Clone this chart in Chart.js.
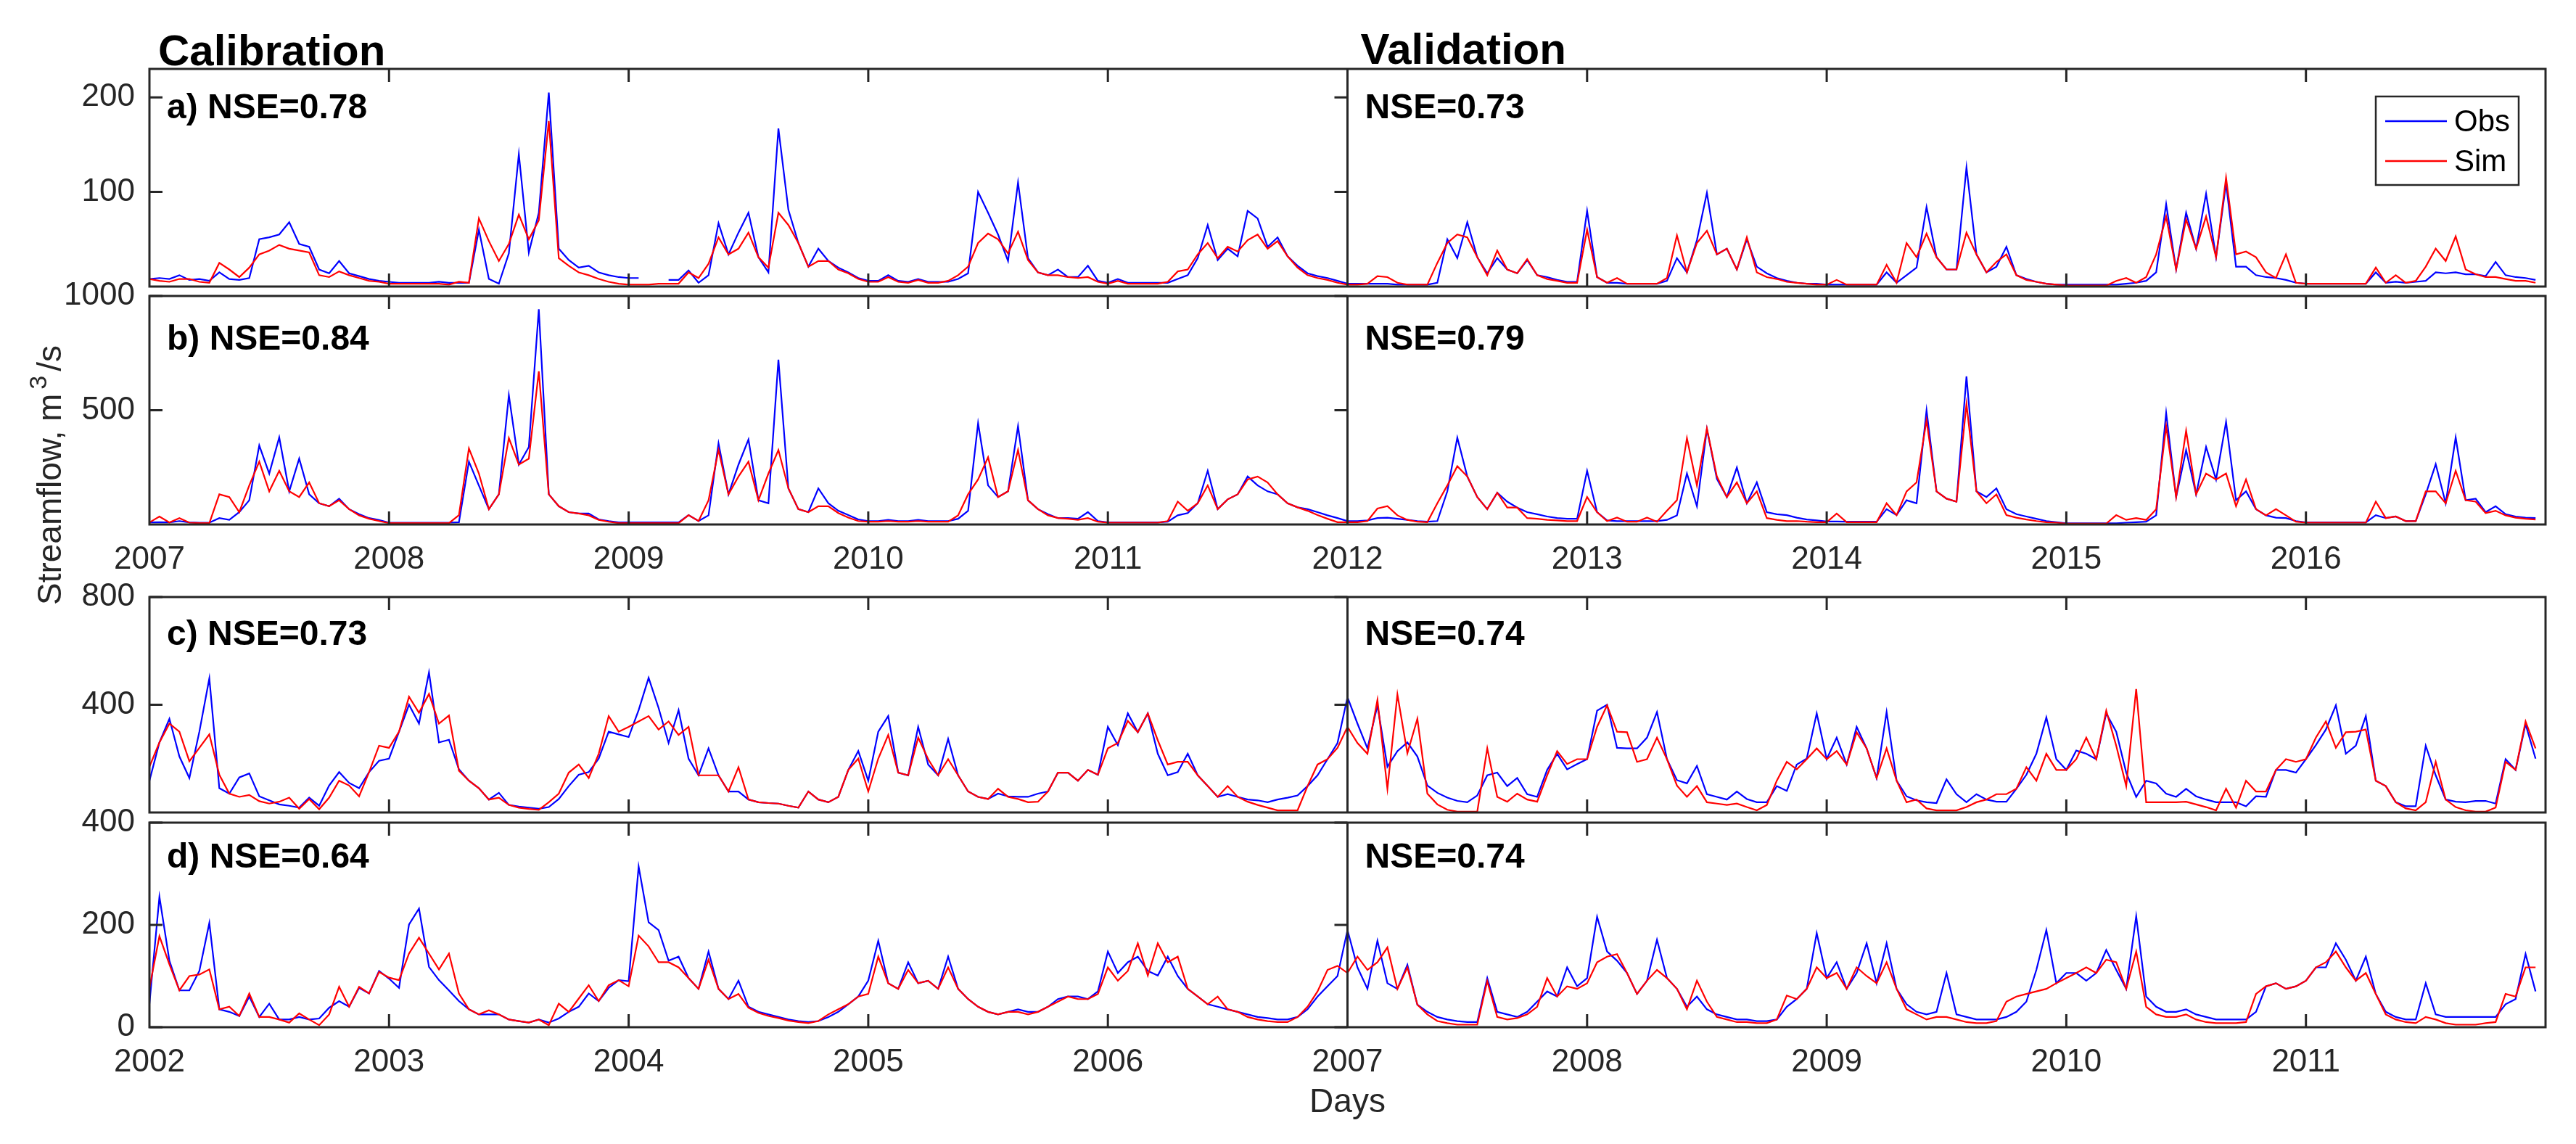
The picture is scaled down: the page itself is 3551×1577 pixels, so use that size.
<!DOCTYPE html>
<html><head><meta charset="utf-8">
<script src="https://cdn.jsdelivr.net/npm/chart.js@4.4.1/dist/chart.umd.min.js"></script>
<style>
html,body{margin:0;padding:0;background:#fff;}
#wrap{position:relative;width:3551px;height:1577px;overflow:hidden;background:#fff;}
canvas{position:absolute;left:0;top:0;}
</style></head><body><div id="wrap">
<canvas id="cA" width="3551" height="1577"></canvas>
<canvas id="cB" width="3551" height="1577"></canvas>
<canvas id="cC" width="3551" height="1577"></canvas>
<canvas id="cD" width="3551" height="1577"></canvas>
</div>
<script>
// ---------------- data (semi-monthly samples) ----------------
const stepsPerYear = 24;
const startAB = 2007;
const startCD = 2002;
const yearsAB = ['2007','2008','2009','2010','2011','2012','2013','2014','2015','2016'];
const yearsCD = ['2002','2003','2004','2005','2006','2007','2008','2009','2010','2011'];
const yTicksA = [100, 200];
const yTicksB = [500, 1000];
const yTicksC = [400, 800];
const yTicksD = [0, 200, 400];
const yMaxA = 230, yMaxB = 1000, yMaxC = 800, yMaxD = 400;
const nseCal = ['a) NSE=0.78', 'b) NSE=0.84', 'c) NSE=0.73', 'd) NSE=0.64'];
const nseVal = ['NSE=0.73', 'NSE=0.79', 'NSE=0.74', 'NSE=0.74'];
const seriesNames = ['Obs', 'Sim'];

const obsA = [
8,9,8,12,7,8,6,15,8,7,9,50,52,55,68,45,42,18,14,27,14,11,8,6,
5,4,4,4,4,5,4,4,4,60,8,3,35,140,36,78,205,40,28,20,22,15,12,10,
9,9,null,null,7,7,17,4,12,67,34,57,78,31,15,167,81,46,21,40,27,20,15,9,
6,6,12,6,5,8,5,5,5,8,14,100,78,55,27,110,30,15,12,18,10,10,22,6,
4,8,4,4,4,4,4,8,12,30,65,28,40,32,80,72,42,52,32,22,14,11,9,6,
3,3,3,3,3,2,2,2,2,4,50,30,68,31,14,30,18,14,28,12,10,7,5,5,
80,10,4,4,3,3,3,3,6,30,15,49,99,34,40,18,50,21,14,9,6,4,3,3,
2,2,2,2,2,2,15,4,12,20,84,31,18,18,126,34,15,21,42,12,8,5,3,2,
2,2,2,2,2,2,3,4,6,15,87,18,78,40,98,31,109,21,21,12,10,9,7,4,
3,3,3,3,3,3,3,15,4,5,4,5,6,15,14,15,13,13,11,26,12,10,9,7];
const simA = [
8,6,5,8,8,5,4,25,18,10,20,34,38,44,40,38,36,12,10,16,12,9,6,5,
3,3,3,3,3,3,2,5,4,72,48,27,45,76,50,70,175,30,22,15,12,8,5,3,
2,2,2,3,3,3,15,9,24,52,34,40,57,31,20,78,65,46,21,27,27,18,14,8,
5,5,10,5,4,7,4,4,6,12,21,46,56,50,35,58,28,15,12,12,10,9,10,5,
3,6,3,3,3,3,5,16,18,34,46,30,42,37,49,55,40,48,32,20,12,9,7,4,
2,2,3,11,10,4,2,2,2,25,46,55,52,31,12,38,18,14,29,12,8,6,4,4,
60,10,4,9,3,3,3,3,9,54,15,46,59,34,40,18,52,15,10,8,5,4,3,2,
2,7,2,2,2,2,23,4,46,31,56,31,18,18,57,34,15,26,34,12,7,5,3,2,
1,1,1,1,1,6,9,4,10,34,74,18,71,40,74,31,115,34,37,31,15,9,34,4,
3,3,3,3,3,3,3,20,4,12,4,6,21,40,27,53,18,13,10,10,8,6,6,4];

const obsB = [
9,10,9,15,9,8,8,28,20,54,106,346,223,381,145,288,132,93,80,113,67,45,28,20,
8,8,8,8,8,8,8,10,275,170,67,132,566,262,339,942,132,80,54,48,48,22,15,9,
9,9,9,9,9,9,41,15,40,355,132,262,372,106,93,721,158,67,54,158,93,60,41,22,
15,15,20,15,15,20,15,15,15,25,60,443,171,120,145,430,106,67,45,28,28,25,54,15,
9,9,9,9,9,9,12,40,50,93,235,67,110,132,210,171,145,132,93,75,67,54,40,28,
15,15,18,28,30,25,20,15,12,15,145,380,210,120,67,139,100,74,54,45,35,28,25,25,
235,54,18,15,15,15,15,15,20,40,223,80,417,200,120,249,93,184,54,45,41,30,22,18,
13,13,12,12,12,12,67,41,106,93,500,145,113,100,648,145,120,158,67,45,35,25,15,10,
5,5,5,5,5,5,8,10,12,40,488,120,326,132,339,197,449,106,145,67,40,30,28,15,
9,9,9,9,9,9,9,41,28,35,15,15,132,264,93,381,106,113,54,80,45,35,30,28];
const simB = [
9,35,9,28,8,6,6,132,120,54,171,275,145,235,145,120,184,93,80,106,67,40,25,15,
6,6,6,6,6,6,6,41,333,223,67,132,378,262,288,670,132,80,54,48,40,20,12,6,
6,6,6,6,6,6,41,15,106,326,132,210,275,106,223,326,158,67,54,80,80,50,30,15,
12,12,15,12,12,15,12,12,12,40,132,197,294,120,145,326,106,67,40,28,25,20,28,12,
8,8,8,8,8,8,15,100,60,93,171,67,110,132,197,210,184,132,93,75,60,41,25,10,
10,10,15,70,80,40,20,12,10,93,171,255,210,120,67,139,74,74,28,25,20,18,15,15,
120,54,15,30,12,12,30,12,60,106,378,171,420,210,120,184,93,145,28,20,15,15,12,10,
10,48,10,10,10,10,93,41,145,184,456,145,113,100,527,145,93,132,41,30,22,15,10,8,
4,4,4,4,4,41,20,28,20,67,430,120,410,132,223,197,223,80,197,67,40,67,40,12,
8,8,8,8,8,8,8,100,28,35,15,15,145,145,93,235,106,100,50,60,40,30,25,22];

const obsC = [
118,260,348,208,128,300,498,90,70,130,145,60,45,30,25,18,55,25,100,150,110,90,150,192,
200,300,400,330,520,260,270,160,118,90,48,73,28,22,18,14,20,50,98,140,150,200,300,290,
280,380,500,388,258,380,200,138,238,138,78,78,48,38,35,33,25,18,78,48,38,58,158,228,
118,300,358,148,138,318,178,138,273,138,78,58,50,70,60,58,58,70,78,148,148,118,158,140,
318,250,368,298,368,218,138,150,218,138,98,58,68,58,48,45,38,48,55,63,98,138,198,258,
428,330,238,398,170,228,260,208,100,73,55,43,38,63,138,148,98,128,68,58,158,218,160,180,
198,378,400,240,238,238,278,373,198,120,108,173,68,58,48,78,50,38,38,98,80,178,200,368,
198,278,178,318,238,128,373,118,60,45,38,35,123,68,38,68,48,40,40,88,140,218,353,198,
158,230,218,198,368,300,148,58,118,108,70,58,88,60,48,38,38,38,23,60,58,158,158,148,
198,250,308,398,218,248,358,118,98,38,23,23,248,138,48,40,38,43,43,33,198,158,328,200];
const simC = [
170,260,330,300,190,240,290,140,70,58,65,42,33,40,55,14,50,12,55,118,100,60,150,248,
240,300,430,370,440,330,360,155,118,90,48,55,28,18,13,10,38,70,148,178,128,218,358,300,
318,338,358,308,338,288,318,138,138,138,78,168,48,38,35,33,25,18,78,48,38,58,158,200,
78,200,288,148,138,278,198,138,198,138,78,58,50,88,58,50,38,40,78,148,148,118,158,140,
238,258,340,298,368,268,178,188,188,138,98,58,98,58,40,28,18,8,8,8,98,178,198,240,
318,258,218,418,88,438,220,348,70,30,10,3,3,3,238,58,40,70,48,40,138,228,180,198,
198,318,398,300,298,188,198,278,198,100,58,98,38,33,28,33,20,8,28,118,188,160,198,238,
198,228,178,298,238,128,238,118,38,48,15,8,8,8,20,38,48,68,68,88,168,118,218,158,
158,198,278,198,378,248,98,458,38,38,38,38,40,30,20,8,88,18,118,78,78,158,198,188,
198,278,338,240,298,300,308,118,98,38,15,8,38,188,48,20,8,3,3,18,188,158,338,238];

const obsD = [
46,255,130,72,72,110,204,35,30,22,60,20,46,15,15,20,15,17,38,51,40,77,66,110,
95,77,201,232,118,92,72,51,35,25,25,25,15,12,9,15,9,17,30,40,66,51,77,92,
90,314,205,190,130,138,96,75,148,75,55,91,40,30,25,20,15,12,10,12,20,30,45,60,
91,169,86,75,127,86,91,75,138,75,55,40,30,25,30,35,30,30,40,55,60,60,55,70,
148,106,127,138,110,101,138,100,75,60,45,40,35,30,25,20,18,15,15,20,35,60,80,100,
190,117,75,169,86,75,122,44,30,20,15,12,10,10,96,30,25,20,30,50,70,60,117,80,
96,216,148,130,106,65,91,171,96,75,40,60,35,25,20,15,15,12,12,15,40,55,75,184,
96,127,75,106,164,86,164,75,45,30,25,30,106,25,20,15,15,15,20,30,50,112,190,86,
106,106,91,106,151,112,75,217,60,40,30,30,35,25,20,15,15,15,15,30,80,86,75,80,
91,117,117,164,132,91,138,65,30,20,15,15,86,25,20,20,20,20,20,20,45,55,143,70];
const simD = [
77,178,123,72,100,103,113,35,40,22,66,20,20,15,9,27,15,4,25,79,40,79,66,108,
97,92,144,175,144,113,144,66,35,25,33,25,15,12,9,15,4,46,30,56,82,51,82,92,
80,179,158,127,127,117,96,75,132,75,55,65,38,28,22,18,13,10,8,12,25,35,45,60,
65,138,86,75,112,86,91,75,117,75,55,40,30,25,30,30,25,30,40,50,60,55,55,65,
117,91,110,164,101,164,127,138,75,60,45,60,35,30,20,15,12,10,10,20,40,70,112,120,
106,138,112,127,156,75,117,44,25,12,8,5,5,5,90,20,15,18,25,40,96,60,80,75,
86,127,138,143,106,65,91,112,96,75,35,91,50,20,15,10,10,8,8,15,62,55,75,117,
96,106,75,117,100,86,127,75,35,25,15,20,20,15,10,8,8,12,50,60,65,70,75,86,
96,106,117,106,132,127,75,148,40,25,20,20,25,15,10,8,8,8,10,65,80,86,75,80,
91,117,127,148,117,91,106,65,25,15,10,8,20,15,8,5,5,5,8,10,65,60,117,117];

// ---------------- layout / style ----------------
const W = 3551, H = 1577;
const PLOT_LEFT = 206, PLOT_RIGHT = 3509;
const FONT = "'Liberation Sans', Arial, Helvetica, sans-serif";
const AXIS_COLOR = '#262626';
const OBS_COLOR = '#0000ff', SIM_COLOR = '#ff0000';

const framePlugin = {
  id: 'frame',
  afterDatasetsDraw(chart, args, o) {
    const ctx = chart.ctx, a = chart.chartArea, xs = chart.scales.x, ys = chart.scales.y;
    const xd = xs.getPixelForValue(o.start + 5);
    ctx.save();
    ctx.strokeStyle = AXIS_COLOR;
    ctx.lineWidth = 3;
    ctx.strokeRect(a.left, a.top, a.right - a.left, a.bottom - a.top);
    ctx.beginPath();
    ctx.moveTo(xd, a.top); ctx.lineTo(xd, a.bottom);
    const TL = 18;
    for (let k = 1; k < 10; k++) {
      if (k === 5) continue;
      const px = xs.getPixelForValue(o.start + k);
      ctx.moveTo(px, a.top); ctx.lineTo(px, a.top + TL);
      ctx.moveTo(px, a.bottom); ctx.lineTo(px, a.bottom - TL);
    }
    for (const v of o.yTicks) {
      const py = ys.getPixelForValue(v);
      ctx.moveTo(a.left, py); ctx.lineTo(a.left + TL, py);
      ctx.moveTo(xd - TL, py); ctx.lineTo(xd, py);
    }
    ctx.stroke();
    ctx.restore();
  }
};

const notesPlugin = {
  id: 'notes',
  afterDraw(chart, args, o) {
    const ctx = chart.ctx, a = chart.chartArea, xs = chart.scales.x;
    const xd = xs.getPixelForValue(o.start + 5);
    ctx.save();
    ctx.fillStyle = '#000';
    ctx.textAlign = 'left';
    ctx.textBaseline = 'alphabetic';
    ctx.font = 'bold 48px ' + FONT;
    ctx.fillText(o.nse[0], a.left + 24, a.top + o.nseDy);
    ctx.fillText(o.nse[1], xd + 24, a.top + o.nseDy);
    if (o.titles) {
      ctx.font = 'bold 60px ' + FONT;
      ctx.fillText('Calibration', a.left + 12, a.top - 5);
      ctx.fillText('Validation', xd + 18, a.top - 7);
    }
    if (o.legend) {
      const ds = chart.data.datasets;
      const bx = 3275, by = 133, bw = 197, bh = 122;
      ctx.fillStyle = '#fff';
      ctx.fillRect(bx, by, bw, bh);
      ctx.strokeStyle = AXIS_COLOR; ctx.lineWidth = 2.5;
      ctx.strokeRect(bx, by, bw, bh);
      ctx.font = '42px ' + FONT;
      ctx.textBaseline = 'middle';
      ds.forEach((d, i) => {
        const ly = by + 34 + i * 55;
        ctx.strokeStyle = d.borderColor; ctx.lineWidth = 2.5;
        ctx.beginPath(); ctx.moveTo(bx + 13, ly); ctx.lineTo(bx + 98, ly); ctx.stroke();
        ctx.fillStyle = '#000';
        ctx.fillText(d.label, bx + 108, ly + 2);
      });
    }
    if (o.axisTitles) {
      ctx.fillStyle = AXIS_COLOR;
      ctx.textBaseline = 'alphabetic';
      ctx.font = '46px ' + FONT;
      ctx.textAlign = 'center';
      ctx.fillText('Days', (PLOT_LEFT + PLOT_RIGHT) / 2, 1533);
      // rotated y title with superscript
      ctx.save();
      ctx.translate(84, 655);
      ctx.rotate(-Math.PI / 2);
      ctx.textAlign = 'left';
      const p1 = 'Streamflow, m', p2 = '3', p3 = '/s';
      ctx.font = '46px ' + FONT; const w1 = ctx.measureText(p1).width, w3 = ctx.measureText(p3).width;
      ctx.font = '34px ' + FONT; const w2 = ctx.measureText(p2).width;
      const gap = 6, tot = w1 + gap + w2 + gap + w3;
      let x0 = -tot / 2;
      ctx.font = '46px ' + FONT; ctx.fillText(p1, x0, 0); x0 += w1 + gap;
      ctx.font = '34px ' + FONT; ctx.fillText(p2, x0, -20); x0 += w2 + gap;
      ctx.font = '46px ' + FONT; ctx.fillText(p3, x0, 0);
      ctx.restore();
    }
    ctx.restore();
  }
};

function makePanel(canvasId, p) {
  const pts = arr => arr.map((v, i) => ({ x: p.start + i / stepsPerYear, y: v }));
  const xh = p.showX ? 80 : 0;
  return new Chart(document.getElementById(canvasId), {
    type: 'line',
    data: { datasets: [
      { label: seriesNames[0], data: pts(p.obs), borderColor: OBS_COLOR, borderWidth: 2.2, pointRadius: 0, tension: 0, order: 1, spanGaps: false, fill: false },
      { label: seriesNames[1], data: pts(p.sim), borderColor: SIM_COLOR, borderWidth: 2.2, pointRadius: 0, tension: 0, order: 0, spanGaps: false, fill: false }
    ]},
    options: {
      responsive: false, animation: false, devicePixelRatio: 1, events: [],
      parsing: false, normalized: true,
      layout: { padding: { left: 0, right: W - PLOT_RIGHT, top: p.top, bottom: H - p.bottom - xh } },
      plugins: {
        legend: { display: false }, tooltip: { enabled: false },
        frame: { start: p.start, yTicks: p.yTicks },
        notes: { start: p.start, nse: p.nse, nseDy: p.nseDy, titles: !!p.titles, legend: !!p.legend, axisTitles: !!p.axisTitles }
      },
      scales: {
        x: {
          type: 'linear', min: p.start, max: p.start + 10,
          grid: { display: false, drawTicks: false }, border: { display: false },
          afterBuildTicks: s => { s.ticks = p.years.map((t, k) => ({ value: p.start + k })); },
          afterFit: s => { s.height = xh; },
          ticks: { display: p.showX, autoSkip: false, maxRotation: 0, padding: 22,
                   font: { family: FONT, size: 44 }, color: AXIS_COLOR,
                   callback: v => p.years[Math.round(v - p.start)] ?? '' }
        },
        y: {
          type: 'linear', min: 0, max: p.yMax,
          grid: { display: false, drawTicks: false }, border: { display: false },
          afterBuildTicks: s => { s.ticks = p.yTicks.map(v => ({ value: v })); },
          afterFit: s => { s.width = PLOT_LEFT; },
          ticks: { autoSkip: false, padding: 20, font: { family: FONT, size: 44 }, color: AXIS_COLOR,
                   callback: v => String(v) }
        }
      }
    },
    plugins: [framePlugin, notesPlugin]
  });
}

makePanel('cA', { start: startAB, years: yearsAB, obs: obsA, sim: simA, yMax: yMaxA, yTicks: yTicksA,
  top: 95, bottom: 395, showX: false, nse: [nseCal[0], nseVal[0]], nseDy: 68, titles: true, legend: true });
makePanel('cB', { start: startAB, years: yearsAB, obs: obsB, sim: simB, yMax: yMaxB, yTicks: yTicksB,
  top: 408, bottom: 723, showX: true, nse: [nseCal[1], nseVal[1]], nseDy: 74 });
makePanel('cC', { start: startCD, years: yearsCD, obs: obsC, sim: simC, yMax: yMaxC, yTicks: yTicksC,
  top: 823, bottom: 1120, showX: false, nse: [nseCal[2], nseVal[2]], nseDy: 66 });
makePanel('cD', { start: startCD, years: yearsCD, obs: obsD, sim: simD, yMax: yMaxD, yTicks: yTicksD,
  top: 1134, bottom: 1416, showX: true, nse: [nseCal[3], nseVal[3]], nseDy: 62, axisTitles: true });
</script>
</body></html>
